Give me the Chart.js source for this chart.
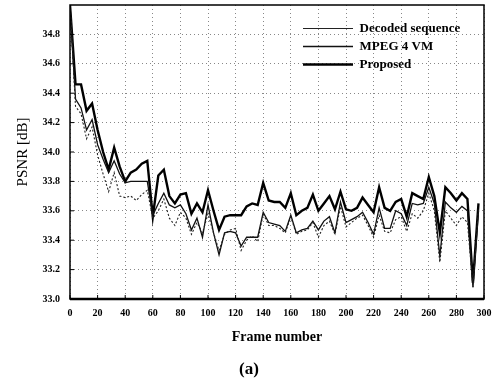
<!DOCTYPE html>
<html>
<head>
<meta charset="utf-8">
<script src="https://cdn.jsdelivr.net/npm/chart.js@4.4.0/dist/chart.umd.min.js"></script>
<style>
  html, body { margin: 0; padding: 0; background: #fff; }
  #wrap { width: 497px; height: 381px; }
</style>
</head>
<body>
<div id="wrap"><canvas id="psnrChart" width="497" height="381"></canvas></div>
<script>
// frame numbers (one sample every 4 frames)
const frames = [
  0, 4, 8, 12, 16, 20, 24, 28, 32, 36, 40, 44, 48, 52, 56,
  60, 64, 68, 72, 76, 80, 84, 88, 92, 96, 100, 104, 108, 112, 116,
  120, 124, 128, 132, 136, 140, 144, 148, 152, 156, 160, 164, 168, 172, 176,
  180, 184, 188, 192, 196, 200, 204, 208, 212, 216, 220, 224, 228, 232, 236,
  240, 244, 248, 252, 256, 260, 264, 268, 272, 276, 280, 284, 288, 292, 296
];

const decoded = [
  35.00, 34.31, 34.26, 34.09, 34.17, 33.98, 33.85, 33.73, 33.86, 33.70, 33.69, 33.70, 33.67, 33.71, 33.74,
  33.55, 33.60, 33.68, 33.55, 33.50, 33.59, 33.55, 33.44, 33.52, 33.45, 33.58, 33.45, 33.33, 33.44, 33.47,
  33.48, 33.33, 33.40, 33.43, 33.39, 33.58, 33.50, 33.50, 33.48, 33.45, 33.56, 33.44, 33.46, 33.47, 33.52,
  33.42, 33.50, 33.53, 33.44, 33.63, 33.49, 33.52, 33.55, 33.57, 33.50, 33.42, 33.57, 33.46, 33.45, 33.54,
  33.56, 33.46, 33.58, 33.55, 33.60, 33.72, 33.60, 33.25, 33.60, 33.55, 33.50, 33.56, 33.52, 33.08, 33.62
];

const mpeg4vm = [
  35.00, 34.36, 34.30, 34.15, 34.22, 34.05, 33.95, 33.86, 33.94, 33.85, 33.79, 33.80, 33.80, 33.80, 33.80,
  33.57, 33.65, 33.72, 33.64, 33.62, 33.64, 33.58, 33.47, 33.55, 33.42, 33.64, 33.45, 33.30, 33.45, 33.46,
  33.45, 33.36, 33.42, 33.42, 33.42, 33.59, 33.52, 33.51, 33.50, 33.46, 33.57, 33.45, 33.47, 33.48, 33.53,
  33.47, 33.53, 33.56, 33.45, 33.66, 33.52, 33.54, 33.56, 33.59, 33.52, 33.44, 33.62, 33.48, 33.48, 33.60,
  33.58, 33.50, 33.65, 33.64, 33.65, 33.76, 33.65, 33.29, 33.66, 33.62, 33.59, 33.63, 33.60, 33.08, 33.60
];

const proposed = [
  35.00, 34.46, 34.46, 34.28, 34.33, 34.15, 34.00, 33.88, 34.03, 33.90, 33.80, 33.86, 33.88, 33.92, 33.94,
  33.56, 33.84, 33.88, 33.70, 33.65, 33.71, 33.72, 33.58, 33.65, 33.59, 33.74, 33.60, 33.47, 33.56, 33.57,
  33.57, 33.57, 33.63, 33.65, 33.64, 33.79, 33.67, 33.66, 33.66, 33.62, 33.72, 33.57, 33.60, 33.62, 33.71,
  33.60, 33.65, 33.70, 33.61, 33.73, 33.61, 33.60, 33.62, 33.69, 33.64, 33.59, 33.76, 33.62, 33.60, 33.66,
  33.68, 33.56, 33.72, 33.70, 33.68, 33.83, 33.70, 33.45, 33.76, 33.72, 33.67, 33.72, 33.68, 33.11, 33.65
];

const xTicks = [0, 20, 40, 60, 80, 100, 120, 140, 160, 180, 200, 220, 240, 260, 280, 300];
const yTicks = [33.0, 33.2, 33.4, 33.6, 33.8, 34.0, 34.2, 34.4, 34.6, 34.8];

const serif = "'Liberation Serif', 'Times New Roman', serif";

const toPoints = vals => frames.map((f, i) => ({ x: f, y: vals[i] }));

// box round the plot, with small inward tick marks
const frameBox = {
  id: 'frameBox',
  afterDatasetsDraw(chart) {
    const { ctx, chartArea: a, scales } = chart;
    ctx.save();
    ctx.strokeStyle = '#000';
    ctx.lineWidth = 1.5;
    ctx.strokeRect(a.left, a.top, a.right - a.left, a.bottom - a.top);
    ctx.lineWidth = 2.5;
    ctx.beginPath();
    ctx.moveTo(a.left, a.bottom);
    ctx.lineTo(a.right, a.bottom);
    ctx.stroke();
    ctx.lineWidth = 1;
    ctx.beginPath();
    xTicks.forEach(v => {
      const px = scales.x.getPixelForValue(v);
      ctx.moveTo(px, a.bottom);
      ctx.lineTo(px, a.bottom - 4);
    });
    yTicks.forEach(v => {
      const py = scales.y.getPixelForValue(v);
      ctx.moveTo(a.left, py);
      ctx.lineTo(a.left + 4, py);
    });
    ctx.stroke();
    ctx.restore();
  }
};

// legend sits in the top right corner of the plot
const placeLegend = {
  id: 'placeLegend',
  afterLayout(chart) {
    const lg = chart.legend;
    const w = lg.width, h = lg.height;
    lg.left = 298;
    lg.top = 17;
    lg.right = lg.left + w;
    lg.bottom = lg.top + h;
  }
};

new Chart(document.getElementById('psnrChart'), {
  type: 'line',
  data: {
    datasets: [
      {
        label: 'Decoded sequence',
        data: toPoints(decoded),
        borderColor: '#222',
        borderWidth: 1.1,
        borderDash: [2, 2],
        pointRadius: 0,
        fill: false,
        tension: 0
      },
      {
        label: 'MPEG 4 VM',
        data: toPoints(mpeg4vm),
        borderColor: '#111',
        borderWidth: 1.3,
        pointRadius: 0,
        fill: false,
        tension: 0
      },
      {
        label: 'Proposed',
        data: toPoints(proposed),
        borderColor: '#000',
        borderWidth: 2.4,
        pointRadius: 0,
        fill: false,
        tension: 0
      }
    ]
  },
  options: {
    responsive: false,
    animation: false,
    devicePixelRatio: 1,
    layout: { padding: { top: 5, right: 13, left: 14, bottom: 0 } },
    scales: {
      x: {
        type: 'linear',
        min: 0,
        max: 300,
        afterBuildTicks: s => { s.ticks = xTicks.map(v => ({ value: v })); },
        afterFit: s => { s.height = 46.6; s.paddingLeft = 0; s.paddingRight = 0; },
        ticks: {
          color: '#000',
          font: { family: serif, size: 10, weight: 'bold' },
          padding: 8,
          maxRotation: 0
        },
        grid: { color: '#888', lineWidth: 1, drawTicks: false },
        border: { display: false, dash: [1, 3] },
        title: {
          display: true,
          text: 'Frame number',
          color: '#000',
          font: { family: serif, size: 14, weight: 'bold' },
          padding: { top: 4, bottom: 0 }
        }
      },
      y: {
        min: 33,
        max: 35,
        afterBuildTicks: s => { s.ticks = yTicks.map(v => ({ value: v })); },
        afterFit: s => { s.width = 56; s.paddingTop = 0; s.paddingBottom = 0; },
        ticks: {
          color: '#000',
          font: { family: serif, size: 10, weight: 'bold' },
          padding: 10,
          callback: v => Number(v).toFixed(1)
        },
        grid: { color: '#888', lineWidth: 1, drawTicks: false },
        border: { display: false, dash: [1, 3] },
        title: {
          display: true,
          text: 'PSNR [dB]',
          color: '#000',
          font: { family: serif, size: 15 },
          padding: { top: 0, bottom: 0 }
        }
      }
    },
    plugins: {
      legend: {
        display: true,
        position: 'chartArea',
        align: 'start',
        labels: {
          usePointStyle: true,
          pointStyle: 'line',
          pointStyleWidth: 50,
          color: '#000',
          font: { family: serif, size: 13, weight: 'bold' },
          padding: 5
        }
      },
      title: {
        display: true,
        text: '(a)',
        position: 'bottom',
        color: '#000',
        font: { family: serif, size: 17 },
        padding: { top: 14, bottom: 1 }
      },
      tooltip: { enabled: false }
    }
  },
  plugins: [frameBox, placeLegend]
});
</script>
</body>
</html>
